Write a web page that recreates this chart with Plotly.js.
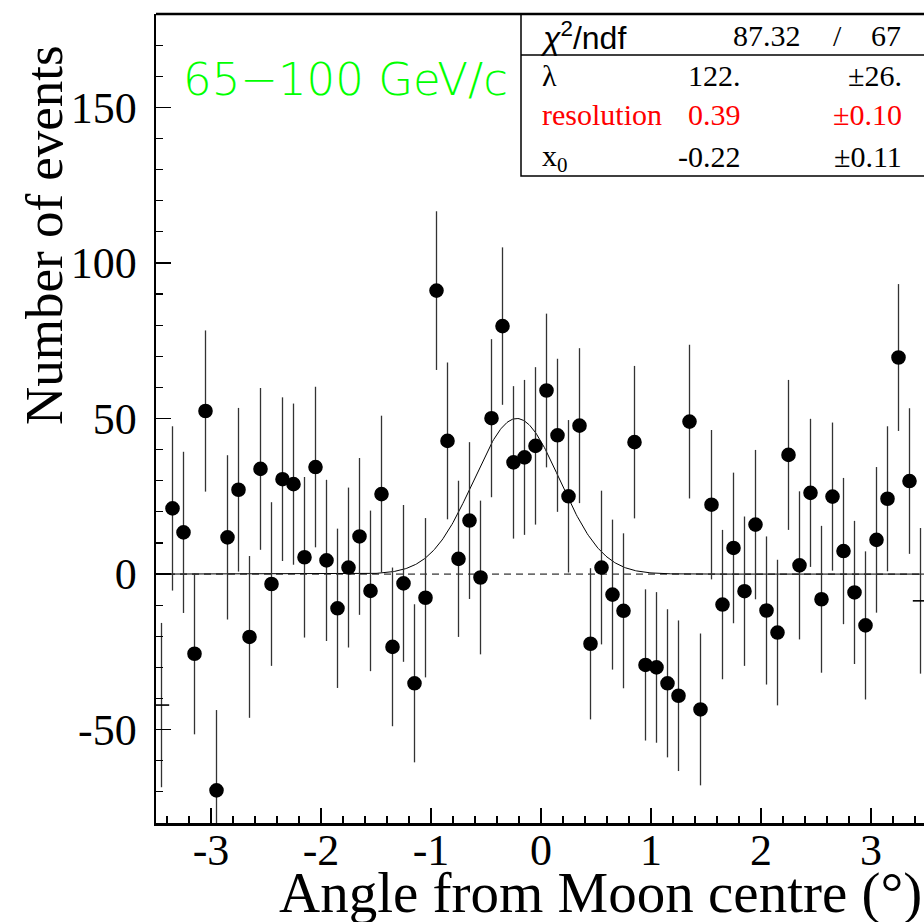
<!DOCTYPE html>
<html><head><meta charset="utf-8">
<script src="https://cdn.plot.ly/plotly-3.0.1.min.js"></script>
<style>html,body{margin:0;padding:0;overflow:hidden;background:#fff}</style>
</head><body><div id="chart"></div>
<script>
// Bin centres (deg)
const binCentres = [-3.45,-3.35,-3.25,-3.15,-3.05,-2.95,-2.85,-2.75,-2.65,-2.55,-2.45,-2.35,-2.25,-2.15,-2.05,-1.95,-1.85,-1.75,-1.65,-1.55,-1.45,-1.35,-1.25,-1.15,-1.05,-0.95,-0.85,-0.75,-0.65,-0.55,-0.45,-0.35,-0.25,-0.15,-0.05,0.05,0.15,0.25,0.35,0.45,0.55,0.65,0.75,0.85,0.95,1.05,1.15,1.25,1.35,1.45,1.55,1.65,1.75,1.85,1.95,2.05,2.15,2.25,2.35,2.45,2.55,2.65,2.75,2.85,2.95,3.05,3.15,3.25,3.35,3.45];
// Number of events per bin
const counts = [-42.1,21.1,13.4,-25.6,52.4,-69.5,11.8,27.1,-20.2,33.8,-3.2,30.5,28.9,5.4,34.4,4.4,-11.0,2.1,12.1,-5.4,25.7,-23.4,-3.0,-35.1,-7.6,91.1,42.8,4.9,17.2,-1.1,50.1,79.7,35.9,37.5,41.2,59.0,44.6,25.0,47.7,-22.4,2.1,-6.6,-11.8,42.4,-29.2,-30.0,-35.1,-39.1,49.0,-43.5,22.3,-9.8,8.4,-5.5,15.9,-11.7,-18.8,38.3,2.8,26.1,-8.1,24.9,7.4,-5.9,-16.5,11.0,24.2,69.6,29.9,-8.6];
// Statistical errors per bin
const errors = [26.4,26.4,25.9,25.9,25.9,25.8,26.4,26.3,26.0,26.0,26.3,26.3,25.9,25.8,25.8,25.9,25.6,25.7,25.2,25.8,25.2,25.5,25.2,25.4,25.6,25.5,25.2,25.1,25.2,24.7,25.4,25.3,24.5,24.9,25.3,24.7,24.6,24.5,24.9,24.3,24.7,24.1,24.9,24.5,24.3,24.2,23.8,24.2,24.7,24.4,24.0,24.0,24.2,24.0,24.0,23.8,23.4,24.1,23.8,23.8,23.6,23.8,23.5,23.0,23.8,23.4,23.3,23.6,23.4,23.4];

// Fit parameters (from the stats box) and peak height
const fitMean = -0.22;
const fitSigma = 0.39;
const fitPeak = 50;
const fitLambda = "122.", fitLambdaErr = "±26.";
const fitRes = "0.39", fitResErr = "±0.10";
const fitX0 = "-0.22", fitX0Err = "±0.11";
const chi2 = "87.32", ndf = "67";

const xTickVals = [-3,-2,-1,0,1,2,3];
const xTickText = ["-3","-2","-1","0","1","2","3"];
const yTickVals = [-50,0,50,100,150];
const yTickText = ["-50","0","50","100","150"];

const energyLabel = "65−100 GeV/c";
const xTitle = "Angle from Moon centre (°)";
const yTitle = "Number of events";

// edge bins drawn as short dashes (as in the reference)
const symbols = binCentres.map((x,i) => (i===0 || i===binCentres.length-1) ? "line-ew" : "circle");
const sizes = binCentres.map((x,i) => (i===0 || i===binCentres.length-1) ? 11 : 13);

// fit curve sampled along the axis
const curveX = [], curveY = [];
for (let i = 0; i <= 700; i++) {
  const x = -3.5 + i*0.01;
  curveX.push(x);
  curveY.push(fitPeak*Math.exp(-0.5*Math.pow((x-fitMean)/fitSigma,2)));
}

const W = 928, H = 922, L = 156, R = 2, T = 14, B = 99;
const pw = W-L-R, ph = H-T-B;
const px = v => (v-L)/pw;
const py = v => (H-B-v)/ph;

const traces = [
  {x:[-3.5,3.5], y:[0,0], mode:"lines", line:{color:"#000",width:1,dash:"7px,5px"}, hoverinfo:"skip", showlegend:false},
  {x:curveX, y:curveY, mode:"lines", line:{color:"#000",width:1}, hoverinfo:"skip", showlegend:false},
  {x:binCentres, y:counts, mode:"markers", type:"scatter",
   error_y:{type:"data", array:errors, visible:true, color:"#333", thickness:1.3, width:0},
   marker:{color:"#000", opacity:1, size:sizes, symbol:symbols, line:{color:"#000",width:1.6}}, showlegend:false}
];

const serif = "Liberation Serif, Times New Roman, serif";
const sans = "Liberation Sans, Arial, sans-serif";
const fs = 30;
const annots = [
  {text:energyLabel, x:px(181), y:py(80), xref:"paper", yref:"paper", xanchor:"left", yanchor:"middle", showarrow:false,
   font:{family:"DejaVu Sans, sans-serif", size:45, color:"#00ff00", weight:200}},
  {text:yTitle, x:px(44), y:py(235), xref:"paper", yref:"paper", xanchor:"center", yanchor:"middle", textangle:-90, showarrow:false,
   font:{family:serif, size:53, color:"#000"}},
  {text:xTitle, x:px(924), y:py(893), xref:"paper", yref:"paper", xanchor:"right", yanchor:"middle", showarrow:false,
   font:{family:serif, size:57, color:"#000"}},
  // stats box content
  {text:"<i>χ</i><sup>2</sup>/ndf", x:px(538), y:py(36), xref:"paper", yref:"paper", xanchor:"left", yanchor:"middle", showarrow:false, font:{family:sans, size:32, color:"#000"}},
  {text:chi2, x:px(803), y:py(36), xref:"paper", yref:"paper", xanchor:"right", yanchor:"middle", showarrow:false, font:{family:serif, size:fs, color:"#000"}},
  {text:"/", x:px(837), y:py(36), xref:"paper", yref:"paper", xanchor:"center", yanchor:"middle", showarrow:false, font:{family:serif, size:fs, color:"#000"}},
  {text:ndf, x:px(903), y:py(36), xref:"paper", yref:"paper", xanchor:"right", yanchor:"middle", showarrow:false, font:{family:serif, size:fs, color:"#000"}},
  {text:"λ", x:px(540), y:py(75), xref:"paper", yref:"paper", xanchor:"left", yanchor:"middle", showarrow:false, font:{family:serif, size:fs, color:"#000"}},
  {text:fitLambda, x:px(743), y:py(75), xref:"paper", yref:"paper", xanchor:"right", yanchor:"middle", showarrow:false, font:{family:serif, size:fs, color:"#000"}},
  {text:fitLambdaErr, x:px(904), y:py(75), xref:"paper", yref:"paper", xanchor:"right", yanchor:"middle", showarrow:false, font:{family:serif, size:fs, color:"#000"}},
  {text:"resolution", x:px(540), y:py(115), xref:"paper", yref:"paper", xanchor:"left", yanchor:"middle", showarrow:false, font:{family:serif, size:fs, color:"#ff0000"}},
  {text:fitRes, x:px(743), y:py(115), xref:"paper", yref:"paper", xanchor:"right", yanchor:"middle", showarrow:false, font:{family:serif, size:fs, color:"#ff0000"}},
  {text:fitResErr, x:px(904), y:py(115), xref:"paper", yref:"paper", xanchor:"right", yanchor:"middle", showarrow:false, font:{family:serif, size:fs, color:"#ff0000"}},
  {text:"x<sub>0</sub>", x:px(540), y:py(158), xref:"paper", yref:"paper", xanchor:"left", yanchor:"middle", showarrow:false, font:{family:serif, size:fs, color:"#000"}},
  {text:fitX0, x:px(743), y:py(156), xref:"paper", yref:"paper", xanchor:"right", yanchor:"middle", showarrow:false, font:{family:serif, size:fs, color:"#000"}},
  {text:fitX0Err, x:px(904), y:py(156), xref:"paper", yref:"paper", xanchor:"right", yanchor:"middle", showarrow:false, font:{family:serif, size:fs, color:"#000"}}
];

const shapes = [
  {type:"rect", xref:"paper", yref:"paper", x0:px(521), x1:px(940), y0:py(176), y1:py(14), line:{color:"#000",width:1.5}, fillcolor:"#fff", layer:"above"},
  {type:"line", xref:"paper", yref:"paper", x0:px(521), x1:px(940), y0:py(55), y1:py(55), line:{color:"#000",width:1.5}, layer:"above"},
  {type:"line", xref:"paper", yref:"paper", x0:0, x1:1, y0:1, y1:1, line:{color:"#000",width:2.5}, layer:"above"}
];

const layout = {
  width: W, height: H,
  margin:{l:L, r:R, t:T, b:B, pad:0},
  paper_bgcolor:"#fff", plot_bgcolor:"#fff",
  showlegend:false,
  xaxis:{range:[-3.5,3.5], tickmode:"array", tickvals:xTickVals, ticktext:xTickText,
    ticks:"inside", ticklen:15, tickwidth:1.5, tickcolor:"#000",
    minor:{tickmode:"linear", tick0:0, dtick:0.2, ticks:"inside", ticklen:7, tickwidth:1.2, tickcolor:"#000", showgrid:false},
    showline:true, linewidth:2.5, linecolor:"#000", mirror:false, showgrid:false, zeroline:false,
    tickfont:{family:serif, size:44, color:"#000"}, ticklabelstandoff:-13},
  yaxis:{range:[-80,180], tickmode:"array", tickvals:yTickVals, ticktext:yTickText,
    ticks:"inside", ticklen:15, tickwidth:1.5, tickcolor:"#000",
    minor:{tickmode:"linear", tick0:0, dtick:10, ticks:"inside", ticklen:7, tickwidth:1.2, tickcolor:"#000", showgrid:false},
    showline:true, linewidth:2.5, linecolor:"#000", mirror:false, showgrid:false, zeroline:false,
    tickfont:{family:serif, size:44, color:"#000"}, ticklabelstandoff:8},
  annotations: annots,
  shapes: shapes
};

Plotly.newPlot("chart", traces, layout, {displayModeBar:false, staticPlot:true});
</script></body></html>
